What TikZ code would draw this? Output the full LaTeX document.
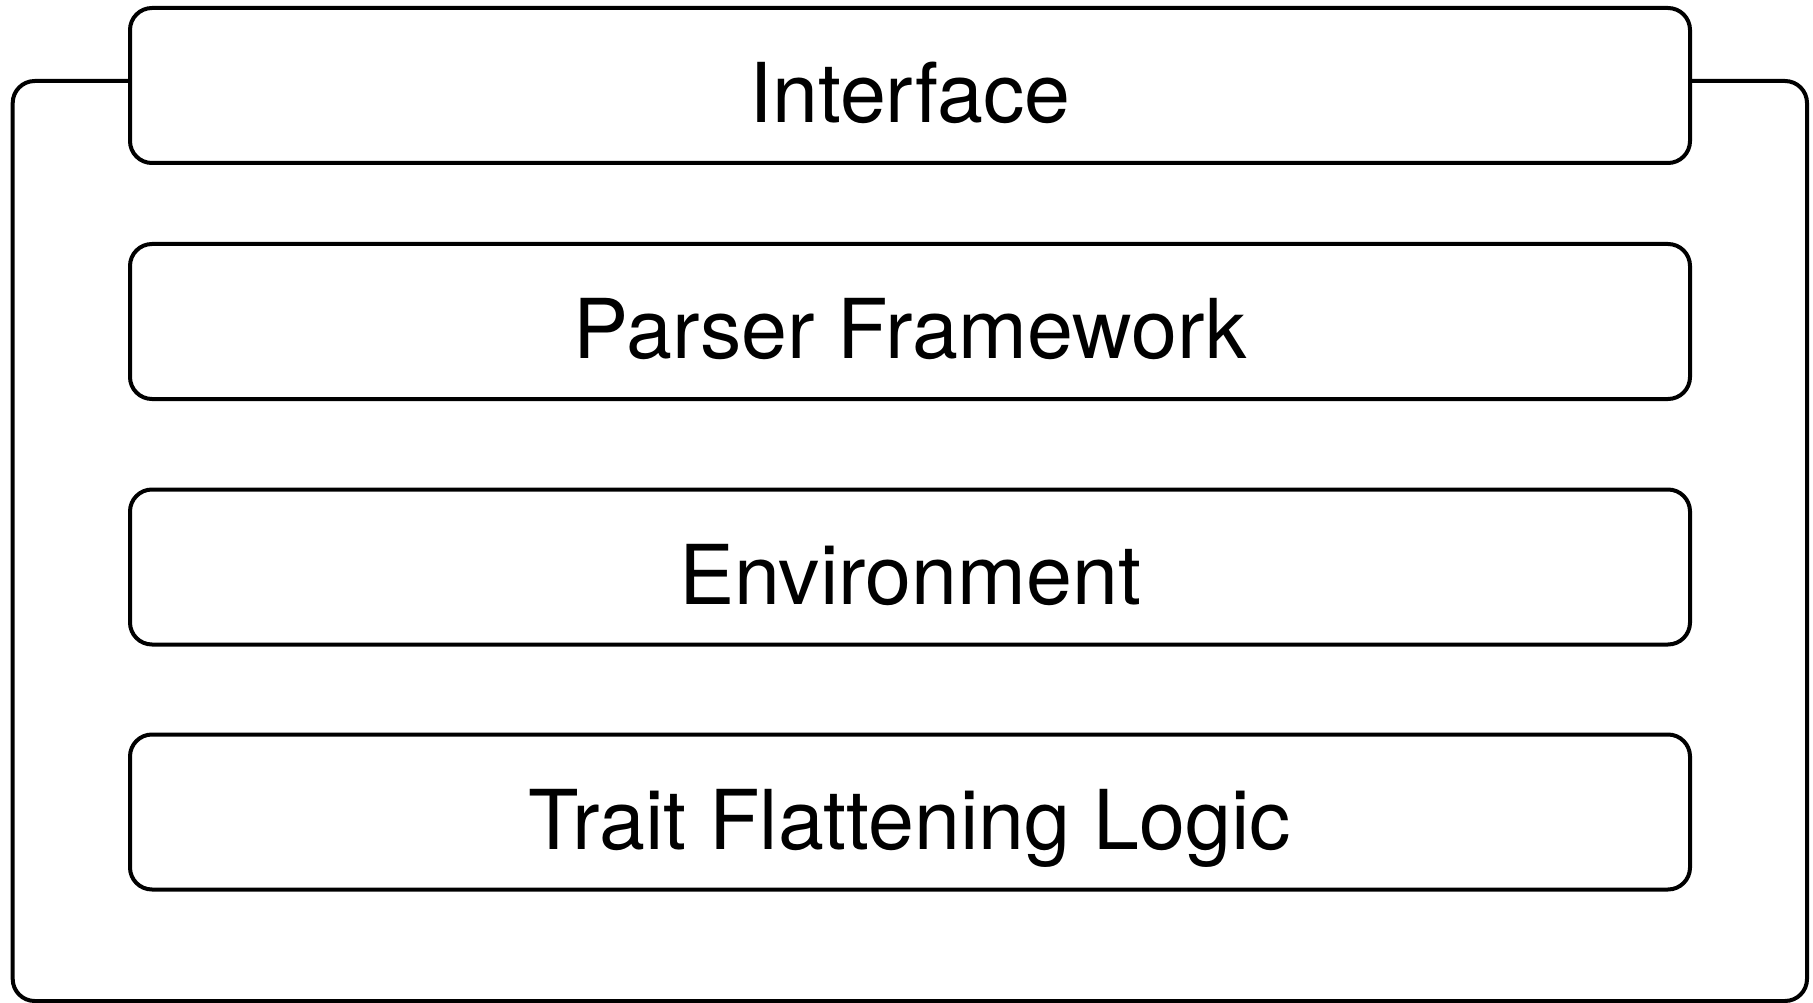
\documentclass[tikz,border=0pt]{standalone}
\usepackage{fontspec}
\setmainfont{TeX Gyre Heros}
\begin{document}
\begin{tikzpicture}[x=1pt,y=-1pt,
  layer/.style={draw=black, line width=4pt, rounded corners=22pt,
    minimum width=1560pt, minimum height=155pt, inner sep=0pt},
  lbl/.style={anchor=base, inner sep=0pt, font=\fontsize{82.6}{99}\selectfont},
  frame/.style={draw=black, line width=4pt, rounded corners=22pt}]
  \useasboundingbox (0,0) rectangle (1813,1003);
  % stacked layers
  \node[layer] (iface) at (910,85.5) {};
  \node[layer] (parser) at (910,321.5) {};
  \node[layer] (env) at (910,567) {};
  \node[layer] (trait) at (910,812) {};
  % labels
  \node[lbl] (tiface) at (910,122.5) {Interface};
  \node[lbl] (tparser) at (910,358.5) {Parser Framework};
  \node[lbl] (tenv) at (910,604) {Environment};
  \node[lbl] (ttrait) at (910,849) {Trait Flattening Logic};
  % enclosing frame hanging from the interface layer
  \coordinate (fl) at (iface.west |- 0,81);
  \coordinate (fr) at (iface.east |- 0,81);
  \draw[frame] (fl) -- (12.7,81) -- (12.7,1001) -- (1807,1001) -- (1807,81) -- (fr);
\end{tikzpicture}
\end{document}
